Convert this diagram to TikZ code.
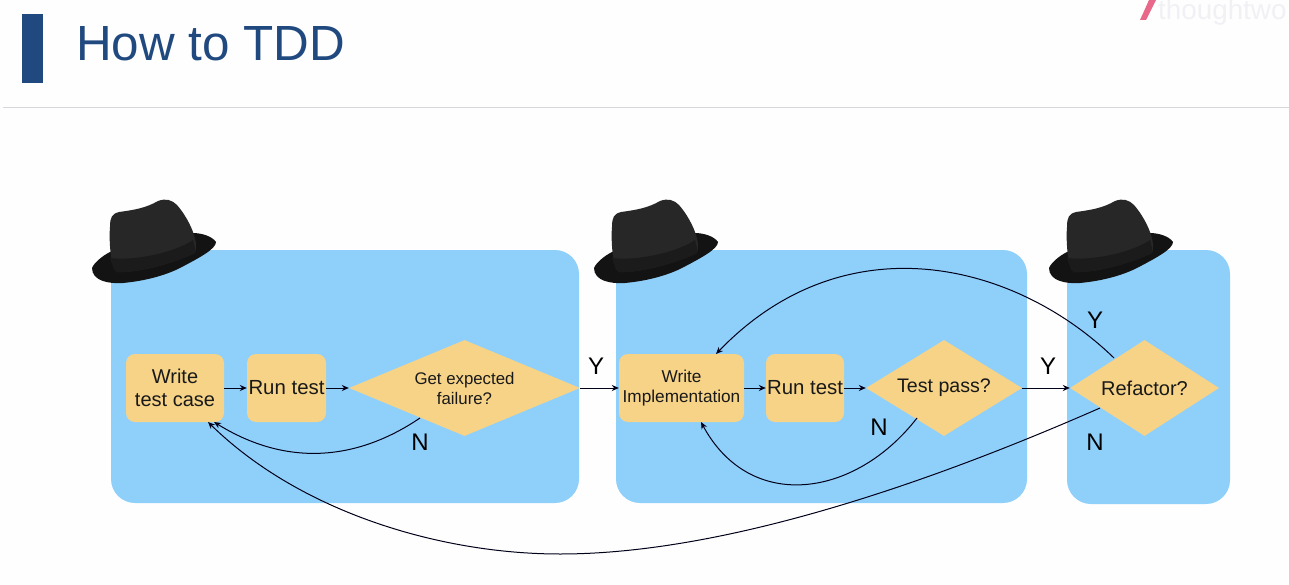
\documentclass[tikz,border=0pt]{standalone}
\usepackage{fontspec}
\setmainfont{Liberation Sans}
\usetikzlibrary{shapes.geometric,arrows.meta,positioning}
\definecolor{panelblue}{HTML}{8FD0FB}
\definecolor{boxorange}{HTML}{F6D387}
\definecolor{titleblue}{HTML}{20497F}
\definecolor{rulegrey}{HTML}{D6D6DB}
\definecolor{logopink}{HTML}{E9688A}
\definecolor{logogrey}{HTML}{F1F1F5}
\definecolor{hatdark}{HTML}{141313}
\definecolor{hatmid}{HTML}{272727}
\definecolor{hatband}{HTML}{1B1B1B}
\newcommand{\fsz}[2]{\fontsize{#1}{#2}\selectfont}
\tikzset{
  x=1pt,y=-1pt,
  panel/.style={fill=panelblue,rounded corners=24pt,draw=none},
  stepbox/.style={rectangle,fill=boxorange,rounded corners=9pt,inner sep=0pt,minimum height=68pt,align=center,text=black!90},
  decide/.style={diamond,fill=boxorange,inner sep=0pt,minimum height=96pt,align=center,text=black!90},
  link/.style={draw=black!90!blue,line width=1pt,-{Stealth[length=7pt,width=6pt]}},
  flag/.style={font=\fontsize{24}{28}\selectfont,text=black,inner sep=0pt},
  pics/hat/.style={code={
    \fill[hatdark] (-62,65) .. controls (-60,60) and (-52,53) .. (-44,49) -- (39,30) .. controls (47,30) and (58,33) .. (62,39) .. controls (62,46) and (45,55) .. (26,65) .. controls (10,73) and (-10,78) .. (-31,80) .. controls (-45,81) and (-62,78) .. (-62,65) -- cycle;
    \fill[hatmid] (-40,66) .. controls (-44,55) and (-45,35) .. (-44,24) .. controls (-44,14) and (-42,11) .. (-35,9) .. controls (-20,7) and (-8,5) .. (4,-2) .. controls (12,-5) and (18,-3) .. (23,2) .. controls (30,10) and (37,22) .. (40,32) .. controls (42,38) and (43,44) .. (41,50) .. controls (20,60) and (-15,70) .. (-37,69) -- cycle;
    \fill[hatband] (-44,55) .. controls (-20,58) and (20,50) .. (39,37) .. controls (40,42) and (42,46) .. (41,50) .. controls (20,60) and (-15,70) .. (-37,69) .. controls (-40,66) and (-43,60) .. (-44,55) -- cycle;
  }}
}
\begin{document}
\begin{tikzpicture}
\useasboundingbox (0,0) rectangle (1289,585);
\clip (0,0) rectangle (1289,585);
\fill[white!99!gray] (0,0) rectangle (1289,585);
% header
\fill[titleblue] (22,14) rectangle (43,83);
\node[anchor=base west,inner sep=0pt,text=titleblue,font=\fsz{49.4}{58}] (title) at (76,61) {How to TDD};
\draw[rulegrey,line width=1pt] (3,107.5) -- (1289,107.5);
\fill[logopink] (1149,0) -- (1156,0) -- (1146,20) -- (1140,20) -- cycle;
\node[anchor=base west,inner sep=0pt,text=logogrey,font=\fsz{27.8}{32}] (logo) at (1158,20) {thoughtwo};
% panels
\fill[panel] (111,250) rectangle (579,503);
\fill[panel] (616,250) rectangle (1027,503);
\fill[panel] (1067,250) rectangle (1230,504);
% hats
\pic at (154,203) {hat};
\pic at (656,203) {hat};
\pic at (1111,203) {hat};
% nodes
\node[stepbox,minimum width=98pt,font=\fsz{20}{23}] (w1) at (175,388) {Write\\test case};
\node[stepbox,minimum width=79pt,font=\fsz{20.4}{23}] (r1) at (286.5,388) {Run test};
\node[decide,aspect=2.406,minimum width=231pt,font=\fsz{16.8}{20}] (d1) at (464.5,388) {Get expected\\failure?};
\node[stepbox,minimum width=125pt,font=\fsz{17.2}{20}] (w2) at (681.5,388) {Write\\Implementation};
\node[stepbox,minimum width=78pt,font=\fsz{20.4}{23}] (r2) at (805,388) {Run test};
\node[decide,aspect=1.625,minimum width=156pt,font=\fsz{19.6}{23}] (d2) at (944,388) {Test pass?};
\node[decide,aspect=1.552,minimum width=149pt,font=\fsz{20}{23}] (d3) at (1144.5,388) {Refactor?};
% straight connectors
\draw[link] (w1) -- (r1);
\draw[link] (r1) -- (d1);
\draw[link] (d1) -- (w2);
\draw[link] (w2) -- (r2);
\draw[link] (r2) -- (d2);
\draw[link] (d2) -- (d3);
% curved connectors
\coordinate (w1a) at (214,422);
\coordinate (w1b) at (208,422);
\coordinate (w2a) at (701,422);
\coordinate (w2b) at (716,354);
\coordinate (d1s) at (420,418);
\coordinate (d2s) at (917,418);
\coordinate (d3a) at (1114,358);
\coordinate (d3b) at (1100,408);
\coordinate (low) at (560,554);
\draw[link] (d1s) .. controls (355,462) and (285,466) .. (w1a);
\draw[link] (d2s) .. controls (855,498) and (750,513) .. (w2a);
\draw[link] (d3a) .. controls (1015,262) and (845,220) .. (w2b);
\draw[link] (d3b) .. controls (920,487) and (720,554) .. (low) .. controls (440,554) and (300,512) .. (w1b);
% labels
\node[flag] (y1) at (596,366) {Y};
\node[flag] (y2) at (1048,366) {Y};
\node[flag] (y3) at (1095,320) {Y};
\node[flag] (n1) at (420,442) {N};
\node[flag] (n2) at (879,427) {N};
\node[flag] (n3) at (1095,442) {N};
\end{tikzpicture}
\end{document}
